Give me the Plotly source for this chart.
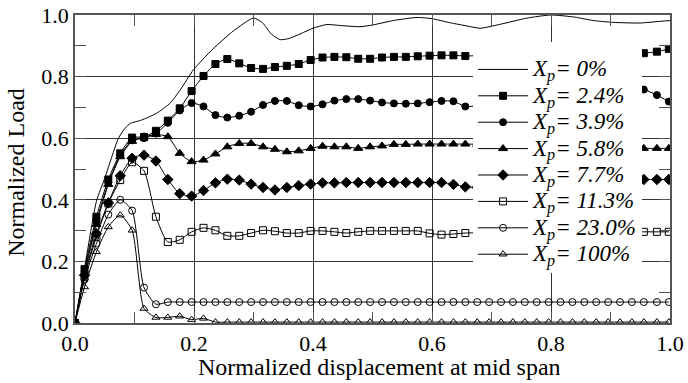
import plotly.graph_objects as go

# ---------------- data ----------------
X_MARK = [0.000, 0.016, 0.036, 0.056, 0.076, 0.096, 0.116, 0.136, 0.156, 0.176,
          0.196, 0.216, 0.236, 0.256, 0.276, 0.296, 0.316, 0.336, 0.356, 0.376,
          0.396, 0.416, 0.436, 0.456, 0.476, 0.496, 0.516, 0.536, 0.556, 0.576,
          0.596, 0.616, 0.636, 0.656, 0.676, 0.696, 0.716, 0.736, 0.756, 0.776,
          0.796, 0.816, 0.836, 0.856, 0.876, 0.896, 0.916, 0.936, 0.956, 0.978,
          0.998]

X_P0 = [0.000, 0.018, 0.036, 0.050, 0.062, 0.073, 0.084, 0.093, 0.112, 0.137,
        0.160, 0.178, 0.199, 0.232, 0.266, 0.300, 0.315, 0.330, 0.345, 0.360,
        0.380, 0.400, 0.423, 0.445, 0.479, 0.501, 0.535, 0.575, 0.600, 0.630,
        0.660, 0.681, 0.715, 0.760, 0.800, 0.840, 0.871, 0.905, 0.950, 0.975,
        1.000]
Y_P0 = [0.000, 0.200, 0.395, 0.470, 0.540, 0.600, 0.632, 0.648, 0.659, 0.681,
        0.714, 0.760, 0.822, 0.890, 0.948, 0.990, 0.975, 0.938, 0.920, 0.924,
        0.940, 0.957, 0.969, 0.966, 0.962, 0.968, 0.982, 0.992, 0.988, 0.975,
        0.964, 0.957, 0.970, 0.990, 1.000, 0.993, 0.982, 0.976, 0.974, 0.978,
        0.982]

Y_P24 = [0.000, 0.175, 0.345, 0.466, 0.551, 0.602, 0.604, 0.624, 0.657, 0.697,
         0.753, 0.802, 0.841, 0.857, 0.843, 0.828, 0.825, 0.831, 0.835, 0.841,
         0.854, 0.862, 0.864, 0.863, 0.858, 0.858, 0.862, 0.864, 0.864, 0.866,
         0.868, 0.869, 0.869, 0.867, 0.868, 0.870, 0.871, 0.872, 0.872, 0.873,
         0.874, 0.874, 0.875, 0.875, 0.876, 0.876, 0.877, 0.877, 0.876, 0.881,
         0.890]
Y_P39 = [0.000, 0.165, 0.330, 0.455, 0.545, 0.593, 0.600, 0.615, 0.650, 0.690,
         0.714, 0.703, 0.675, 0.667, 0.673, 0.686, 0.708, 0.721, 0.721, 0.707,
         0.703, 0.710, 0.722, 0.727, 0.727, 0.722, 0.716, 0.713, 0.712, 0.713,
         0.717, 0.721, 0.720, 0.703, 0.705, 0.712, 0.720, 0.726, 0.730, 0.728,
         0.724, 0.722, 0.726, 0.733, 0.740, 0.746, 0.752, 0.757, 0.758, 0.740,
         0.719]
Y_P58 = [0.000, 0.160, 0.320, 0.450, 0.540, 0.590, 0.605, 0.612, 0.605, 0.551,
         0.524, 0.529, 0.549, 0.572, 0.583, 0.583, 0.572, 0.564, 0.556, 0.559,
         0.567, 0.574, 0.572, 0.572, 0.567, 0.572, 0.575, 0.580, 0.580, 0.581,
         0.581, 0.581, 0.581, 0.581, 0.580, 0.578, 0.576, 0.574, 0.572, 0.571,
         0.570, 0.569, 0.568, 0.568, 0.567, 0.567, 0.567, 0.567, 0.567, 0.567,
         0.567]
Y_P77 = [0.000, 0.155, 0.290, 0.390, 0.478, 0.535, 0.545, 0.526, 0.466, 0.420,
         0.412, 0.430, 0.455, 0.467, 0.464, 0.451, 0.440, 0.432, 0.440, 0.446,
         0.451, 0.455, 0.455, 0.456, 0.456, 0.456, 0.456, 0.456, 0.456, 0.456,
         0.456, 0.456, 0.450, 0.442, 0.440, 0.440, 0.442, 0.445, 0.448, 0.452,
         0.455, 0.458, 0.460, 0.462, 0.464, 0.465, 0.466, 0.466, 0.466, 0.466,
         0.466]
Y_P113 = [0.000, 0.150, 0.280, 0.388, 0.464, 0.522, 0.494, 0.345, 0.263, 0.270,
          0.296, 0.309, 0.301, 0.283, 0.283, 0.292, 0.301, 0.298, 0.292, 0.292,
          0.299, 0.299, 0.296, 0.292, 0.296, 0.299, 0.299, 0.299, 0.299, 0.299,
          0.291, 0.287, 0.289, 0.292, 0.293, 0.294, 0.295, 0.296, 0.296, 0.296,
          0.296, 0.296, 0.296, 0.296, 0.296, 0.296, 0.296, 0.296, 0.296, 0.296,
          0.296]
Y_P230 = [0.000, 0.141, 0.258, 0.352, 0.400, 0.365, 0.115, 0.061, 0.068, 0.068,
          0.068, 0.068, 0.068, 0.068, 0.068, 0.068, 0.068, 0.068, 0.068, 0.068,
          0.068, 0.068, 0.068, 0.068, 0.068, 0.068, 0.068, 0.068, 0.068, 0.068,
          0.068, 0.068, 0.068, 0.068, 0.068, 0.068, 0.068, 0.068, 0.068, 0.068,
          0.068, 0.068, 0.068, 0.068, 0.068, 0.068, 0.068, 0.068, 0.068, 0.068,
          0.068]
Y_P100 = [0.000, 0.117, 0.231, 0.312, 0.350, 0.301, 0.047, 0.018, 0.018, 0.022,
          0.011, 0.015, 0.003, 0.003, 0.003, 0.003, 0.003, 0.003, 0.003, 0.003,
          0.003, 0.003, 0.003, 0.003, 0.003, 0.003, 0.003, 0.003, 0.003, 0.003,
          0.003, 0.003, 0.003, 0.003, 0.003, 0.003, 0.003, 0.003, 0.003, 0.003,
          0.003, 0.003, 0.003, 0.003, 0.003, 0.003, 0.003, 0.003, 0.003, 0.003,
          0.003]

LABELS = ["0%", "2.4%", "3.9%", "5.8%", "7.7%", "11.3%", "23.0%", "100%"]
X_TICKS = [0.0, 0.2, 0.4, 0.6, 0.8, 1.0]
Y_TICKS = [0.0, 0.2, 0.4, 0.6, 0.8, 1.0]
X_TITLE = "Normalized displacement at mid span"
Y_TITLE = "Normalized Load"

FONT = "Liberation Serif"


def lab(s):
    return ('<span style="font-size:23px"><i>X<sub>p</sub>= ' + s + "</i></span>")


fig = go.Figure()
fig.add_trace(go.Scatter(x=X_P0, y=Y_P0, mode="lines", name=lab(LABELS[0]),
                         line=dict(color="black", width=1, shape="spline", smoothing=0.6)))

marker_series = [
    (Y_P24, "square", 7),
    (Y_P39, "circle", 7),
    (Y_P58, "triangle-up", 8),
    (Y_P77, "diamond", 8),
    (Y_P113, "square-open", 7),
    (Y_P230, "circle-open", 7),
    (Y_P100, "triangle-up-open", 7),
]
for (ys, sym, sz), lbl in zip(marker_series, LABELS[1:]):
    fig.add_trace(go.Scatter(
        x=X_MARK, y=ys, mode="lines+markers", name=lab(lbl),
        line=dict(color="black", width=1, shape="spline", smoothing=0.6),
        marker=dict(symbol=sym, size=sz, color="black",
                    line=dict(color="black", width=1)),
    ))

axis_common = dict(
    showline=True, linecolor="#555", linewidth=1.5, mirror="allticks",
    showgrid=True, gridcolor="#333", gridwidth=1,
    ticks="inside", ticklen=11, tickcolor="#555", tickwidth=1,
    minor=dict(ticks="inside", ticklen=11, dtick=0.1, tickcolor="#555",
               tickwidth=1, showgrid=False),
    zeroline=False,
    tickfont=dict(family=FONT, size=22, color="black"),
    tickformat=".1f",
    ticklabeloverflow="allow",
)

fig.update_xaxes(range=[0, 1], tickvals=X_TICKS, **axis_common)
fig.update_yaxes(range=[0, 1], tickvals=Y_TICKS, **axis_common)

fig.add_annotation(text=X_TITLE, xref="paper", yref="paper", x=0.5126, y=-0.144,
                   xanchor="center", yanchor="middle", showarrow=False,
                   font=dict(family=FONT, size=24, color="black"))
fig.add_annotation(text=Y_TITLE, xref="paper", yref="paper", x=-0.099, y=0.488,
                   xanchor="center", yanchor="middle", showarrow=False, textangle=-90,
                   font=dict(family=FONT, size=24, color="black"))

fig.update_layout(
    width=688, height=383,
    margin=dict(l=75, r=18, t=15, b=60, autoexpand=False),
    plot_bgcolor="white", paper_bgcolor="white",
    font=dict(family=FONT, color="black"),
    legend=dict(x=0.669, y=0.912, xanchor="left", yanchor="top",
                bgcolor="white", borderwidth=0,
                title=dict(text="&nbsp;", font=dict(family=FONT, size=7)),
                font=dict(family=FONT, size=18, color="black"),
                itemwidth=50, tracegroupgap=0),
    showlegend=True,
)

# remove the default 8px page margin so the figure fills the window exactly
fig.write_html("out.html", config={"displayModeBar": False},
               post_script="document.body.style.margin='0';")
